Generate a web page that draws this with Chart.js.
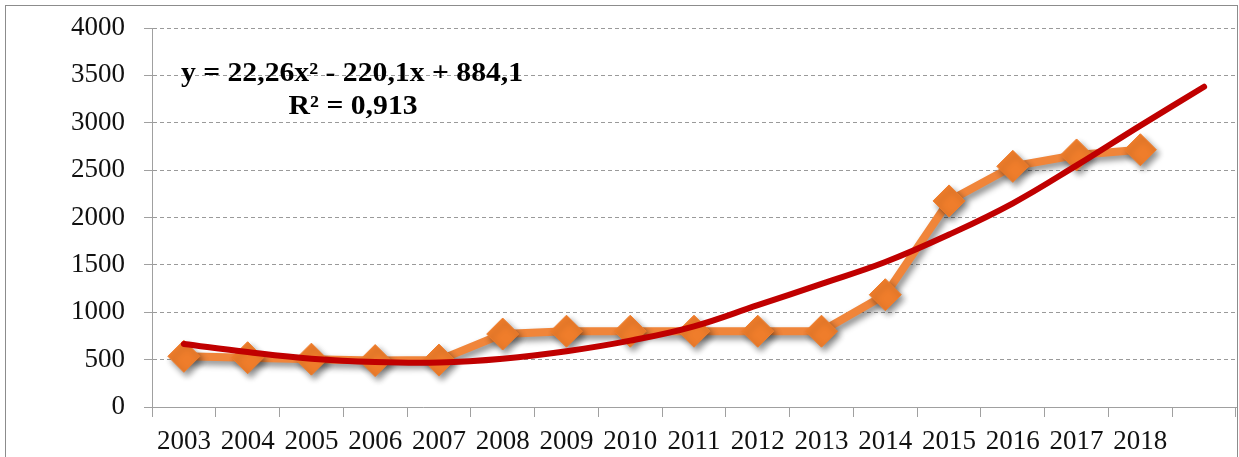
<!DOCTYPE html>
<html>
<head>
<meta charset="utf-8">
<script src="https://cdn.jsdelivr.net/npm/chart.js@4/dist/chart.umd.min.js"></script>
<style>
  body { margin: 0; background: #fff; }
  #wrap { position: relative; width: 1239px; height: 457px; overflow: hidden; }
  #frame { position: absolute; left: 5px; top: 5px; width: 1231px; height: 470px; border: 1px solid #8c8c8c; }
  #chart { position: absolute; left: 0; top: 0; }
</style>
</head>
<body>
<div id="wrap">
  <div id="frame"></div>
  <!-- canvas a bit wider than the window: chart.js keeps ~14px spare on the right -->
  <canvas id="chart" width="1253" height="457"></canvas>
</div>
<script>
// --- data ---
const years = ['2003','2004','2005','2006','2007','2008','2009','2010','2011','2012','2013','2014','2015','2016','2017','2018',''];
const values = [535, 520, 505, 490, 495, 770, 800, 800, 800, 800, 800, 1185, 2175, 2540, 2660, 2715];
// polynomial trend line, as drawn (one period forecast past 2018)
const trend = [665, 580, 510, 475, 470, 510, 588, 700, 852, 1075, 1300, 1530, 1820, 2150, 2550, 2970, 3380];
const yTicks = [0, 500, 1000, 1500, 2000, 2500, 3000, 3500, 4000];
const eqLine1 = 'y = 22,26x² - 220,1x + 884,1';
const eqLine2 = 'R² = 0,913';

// drop shadow under the orange series
const shadow = {
  id: 'shadow',
  beforeDatasetDraw(chart, args) {
    if (args.index !== 0) return;
    const ctx = chart.ctx;
    ctx.save();
    ctx.shadowColor = 'rgba(0,0,0,0.45)';
    ctx.shadowBlur = 6;
    ctx.shadowOffsetX = 3;
    ctx.shadowOffsetY = 4;
  },
  afterDatasetDraw(chart, args) {
    if (args.index !== 0) return;
    chart.ctx.restore();
  }
};

// trend equation label
const equation = {
  id: 'equation',
  afterDraw(chart) {
    const ctx = chart.ctx;
    ctx.save();
    ctx.fillStyle = '#000';
    ctx.font = 'bold 27px "Liberation Serif"';
    ctx.textAlign = 'center';
    ctx.textBaseline = 'alphabetic';
    ctx.translate(352, 0);
    ctx.scale(1.1, 1);
    ctx.fillText(eqLine1, 0, 81);
    ctx.fillText(eqLine2, 1, 114);
    ctx.restore();
  }
};

new Chart(document.getElementById('chart'), {
  type: 'line',
  data: {
    labels: years,
    datasets: [
      { label: 'values', data: values, borderColor: '#f0853a', borderWidth: 8, pointStyle: 'rectRot',
        pointRadius: 16, pointBackgroundColor: '#ef7d2b', pointBorderColor: '#ef7d2b', pointBorderWidth: 1,
        tension: 0, order: 2 },
      { label: 'trend', data: trend, borderColor: '#c00000', borderWidth: 6, borderCapStyle: 'round',
        pointRadius: 0, tension: 0.4, order: 1 }
    ]
  },
  options: {
    responsive: false,
    animation: false,
    layout: { padding: { top: 28, right: 3, left: 0, bottom: 0 } },
    plugins: { legend: { display: false }, tooltip: { enabled: false } },
    scales: {
      x: {
        offset: true,
        grid: { offset: true, drawOnChartArea: false, drawTicks: true, tickLength: 10, color: '#a0a0a0', tickColor: '#a0a0a0' },
        border: { color: '#a0a0a0', width: 1 },
        ticks: { autoSkip: false, maxRotation: 0, minRotation: 0, padding: 9, color: '#111',
                 font: { family: '"Liberation Serif"', size: 27 } },
        afterFit(s) { s.height = 50; s.paddingLeft = 0; s.paddingRight = 0; }
      },
      y: {
        min: 0,
        max: 4000,
        afterBuildTicks(s) { s.ticks = yTicks.map(v => ({ value: v })); },
        grid: { color: '#9a9a9a', tickColor: '#a0a0a0', tickLength: 8, drawTicks: true },
        border: { color: '#a0a0a0', width: 1, dash: [4, 3] },
        ticks: { padding: 19, color: '#111', font: { family: '"Liberation Serif"', size: 27 },
                 callback: v => String(v) },
        afterFit(s) { s.width = 152; s.paddingTop = 0; s.paddingBottom = 0; }
      }
    }
  },
  plugins: [shadow, equation]
});
</script>
</body>
</html>
